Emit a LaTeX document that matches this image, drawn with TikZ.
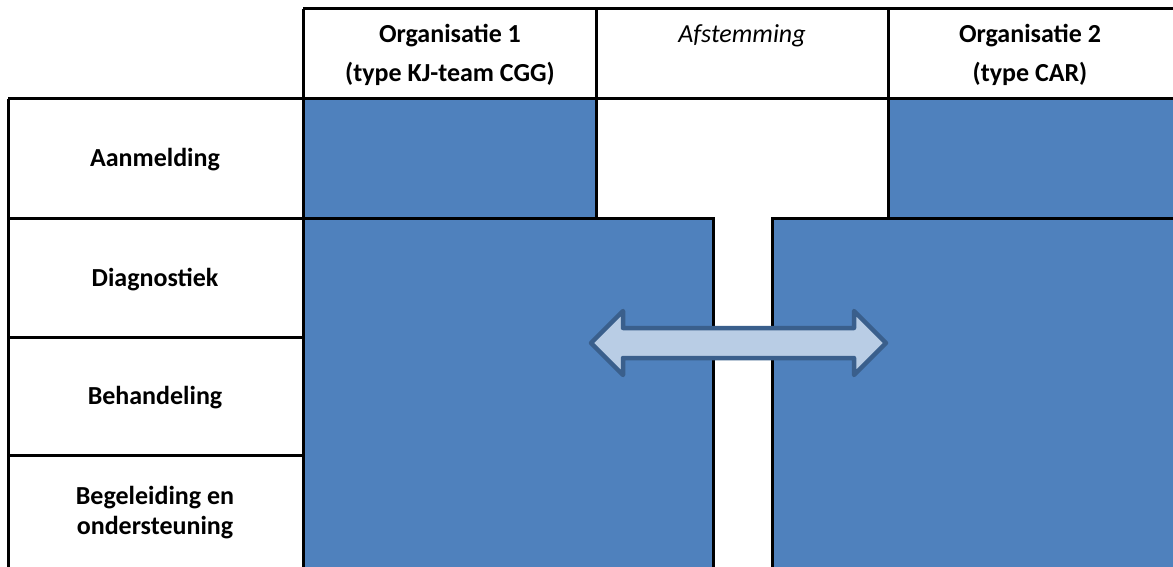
\documentclass[tikz,border=0pt]{standalone}
\usepackage{fontspec}
\setmainfont{Carlito}
\definecolor{orgblue}{HTML}{4F81BD}
\definecolor{arrowfill}{HTML}{B9CDE5}
\definecolor{arrowline}{HTML}{3A5F8C}
\begin{document}
\begin{tikzpicture}[x=1pt,y=-1pt,
  tbl/.style={draw=black,line width=3pt},
  blockfill/.style={fill=orgblue},
  lbl/.style={font=\fontsize{26}{30}\selectfont\bfseries,align=center,inner sep=0pt},
  hdr/.style={font=\fontsize{26}{39}\selectfont\bfseries,align=center,inner sep=0pt},
  hdrit/.style={font=\fontsize{26}{30}\selectfont\itshape,inner sep=0pt},
  bigarrow/.style={fill=arrowfill,draw=arrowline,line width=4.5pt,line join=round}]
\useasboundingbox (0,0) rectangle (1173,567);
% blue blocks
\fill[blockfill] (303,99) rectangle (596,218);
\fill[blockfill] (888,99) rectangle (1173,218);
\fill[blockfill] (303,218) rectangle (713,567);
\fill[blockfill] (772,218) rectangle (1173,567);
% table lines
\draw[tbl] (303,9) -- (1173,9);
\draw[tbl] (303,9) -- (303,567);
\draw[tbl] (596,9) -- (596,218);
\draw[tbl] (888,9) -- (888,218);
\draw[tbl] (8,99) -- (1173,99);
\draw[tbl] (8,99) -- (8,567);
\draw[tbl] (8,218) -- (713,218) -- (713,567);
\draw[tbl] (1173,218) -- (772,218) -- (772,567);
\draw[tbl] (8,337) -- (303,337);
\draw[tbl] (8,455) -- (303,455);
% arrow
\draw[bigarrow] (591,343) -- (623,311) -- (623,328) -- (854,328) -- (854,311)
  -- (886,343) -- (854,375) -- (854,358) -- (623,358) -- (623,375) -- cycle;
% header texts
\node[hdr] (org1) at (450,55) {Organisatie 1\\(type KJ-team CGG)};
\node[hdrit] (afst) at (742,36) {Afstemming};
\node[hdr] (org2) at (1030,55) {Organisatie 2\\(type CAR)};
% row labels
\node[lbl] (aan) at (155,160) {Aanmelding};
\node[lbl] (diag) at (155,280) {Diagnostiek};
\node[lbl] (beh) at (155,398) {Behandeling};
\node[lbl] (beg) at (155,513) {Begeleiding en\\ondersteuning};
\end{tikzpicture}
\end{document}
